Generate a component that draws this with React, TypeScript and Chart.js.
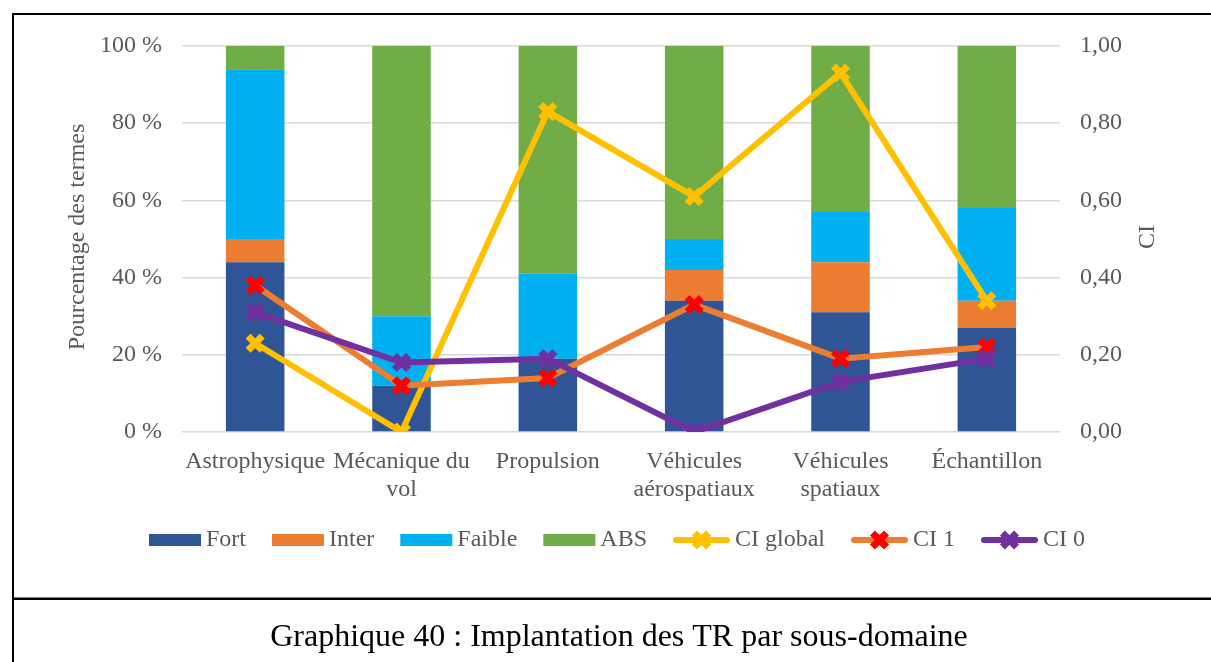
import React, { useEffect, useRef } from "react";
import { Chart, registerables } from "chart.js";

Chart.register(...registerables);

const categories: (string | string[])[] = [
  "Astrophysique",
  ["Mécanique du", "vol"],
  "Propulsion",
  ["Véhicules", "aérospatiaux"],
  ["Véhicules", "spatiaux"],
  "Échantillon",
];
const fort = [44, 12, 19, 34, 31, 27];
const inter = [6, 0, 0, 8, 13, 7];
const faible = [44, 18, 22, 8, 13, 24];
const abs = [6, 70, 59, 50, 43, 42];
const ciGlobal = [0.23, 0.0, 0.83, 0.61, 0.93, 0.34];
const ci1 = [0.38, 0.12, 0.14, 0.33, 0.19, 0.22];
const ci0 = [0.31, 0.18, 0.19, 0.0, 0.13, 0.19];

const leftTitle = "Pourcentage des termes";
const rightTitle = "CI";
const caption = "Graphique 40 : Implantation des TR par sous-domaine";

const FONT = '"Liberation Serif", "Times New Roman", serif';
const TEXT = "#595959";
const C_FORT = "#2F5597";
const C_INTER = "#ED7D31";
const C_FAIBLE = "#00B0F0";
const C_ABS = "#70AD47";
const C_GLOBAL = "#FFC000";
const C_RED = "#FF0000";
const C_PURPLE = "#7030A0";

type LegendItem = { kind: "box" | "line"; label: string; color: string; marker?: string };
const legendItems: LegendItem[] = [
  { kind: "box", label: "Fort", color: C_FORT },
  { kind: "box", label: "Inter", color: C_INTER },
  { kind: "box", label: "Faible", color: C_FAIBLE },
  { kind: "box", label: "ABS", color: C_ABS },
  { kind: "line", label: "CI global", color: C_GLOBAL, marker: C_GLOBAL },
  { kind: "line", label: "CI 1", color: C_INTER, marker: C_RED },
  { kind: "line", label: "CI 0", color: C_PURPLE, marker: C_PURPLE },
];

function drawX(ctx: CanvasRenderingContext2D, x: number, y: number, r: number, color: string, w: number) {
  const o = Math.cos(Math.PI / 4) * r;
  ctx.save();
  ctx.strokeStyle = color;
  ctx.lineWidth = w;
  ctx.beginPath();
  ctx.moveTo(x - o, y - o);
  ctx.lineTo(x + o, y + o);
  ctx.moveTo(x + o, y - o);
  ctx.lineTo(x - o, y + o);
  ctx.stroke();
  ctx.restore();
}

const decorPlugin = {
  id: "decor",
  afterDraw(chart: any) {
    const ctx: CanvasRenderingContext2D = chart.ctx;
    const area = chart.chartArea;
    ctx.save();
    // frame
    ctx.fillStyle = "#000";
    ctx.fillRect(12, 13, 2, 662 - 13);
    ctx.fillRect(12, 13, 1211 - 12, 2);
    ctx.fillRect(12, 597.5, 1211 - 12, 2.5);

    // axis titles
    ctx.fillStyle = TEXT;
    ctx.font = `24px ${FONT}`;
    ctx.textAlign = "center";
    ctx.textBaseline = "middle";
    const cy = (area.top + area.bottom) / 2;
    ctx.save();
    ctx.translate(78, cy - 2);
    ctx.rotate(-Math.PI / 2);
    ctx.fillText(leftTitle, 0, 0);
    ctx.restore();
    ctx.save();
    ctx.translate(1148, cy - 2);
    ctx.rotate(-Math.PI / 2);
    ctx.fillText(rightTitle, 0, 0);
    ctx.restore();

    // legend
    const boxW = 52, lineW = 57, tGap = 5, iGap = 26;
    ctx.textAlign = "left";
    const widths = legendItems.map(
      (it) => (it.kind === "box" ? boxW : lineW) + tGap + ctx.measureText(it.label).width
    );
    const total = widths.reduce((a, b) => a + b, 0) + iGap * (legendItems.length - 1);
    let x = 617 - total / 2;
    const ly = 540;
    legendItems.forEach((it, i) => {
      if (it.kind === "box") {
        ctx.fillStyle = it.color;
        ctx.fillRect(x, ly - 6, boxW, 12);
        x += boxW;
      } else {
        ctx.strokeStyle = it.color;
        ctx.lineWidth = 6;
        ctx.lineCap = "round";
        ctx.beginPath();
        ctx.moveTo(x + 3, ly);
        ctx.lineTo(x + lineW - 3, ly);
        ctx.stroke();
        ctx.lineCap = "butt";
        drawX(ctx, x + lineW / 2, ly, 10, it.marker as string, 7);
        x += lineW;
      }
      x += tGap;
      ctx.fillStyle = TEXT;
      ctx.fillText(it.label, x, ly);
      x += widths[i] - (it.kind === "box" ? boxW : lineW) - tGap + iGap;
    });

    // caption
    ctx.fillStyle = "#000";
    ctx.font = `32px ${FONT}`;
    ctx.textAlign = "center";
    ctx.textBaseline = "alphabetic";
    ctx.fillText(caption, 619, 646);
    ctx.restore();
  },
};

export default function App() {
  const ref = useRef<HTMLCanvasElement | null>(null);
  useEffect(() => {
    if (!ref.current) return;
    Chart.defaults.font.family = FONT;
    const lineDs = (label: string, data: number[], color: string, marker: string, order: number) => ({
      type: "line" as const,
      label,
      data,
      yAxisID: "y1",
      borderColor: color,
      backgroundColor: marker,
      borderWidth: 6,
      pointStyle: "crossRot",
      pointRadius: 10,
      pointBorderWidth: 7,
      pointBorderColor: marker,
      pointBackgroundColor: marker,
      order,
      tension: 0,
    });
    const barDs = (label: string, data: number[], color: string) => ({
      type: "bar" as const,
      label,
      data,
      yAxisID: "y",
      backgroundColor: color,
      barPercentage: 0.4,
      categoryPercentage: 1.0,
      order: 5,
    });
    const chart = new Chart(ref.current, {
      type: "bar",
      data: {
        labels: categories as any,
        datasets: [
          barDs("Fort", fort, C_FORT),
          barDs("Inter", inter, C_INTER),
          barDs("Faible", faible, C_FAIBLE),
          barDs("ABS", abs, C_ABS),
          lineDs("CI global", ciGlobal, C_GLOBAL, C_GLOBAL, 2),
          lineDs("CI 1", ci1, C_INTER, C_RED, 1),
          lineDs("CI 0", ci0, C_PURPLE, C_PURPLE, 0),
        ] as any,
      },
      options: {
        responsive: false,
        animation: false,
        devicePixelRatio: 1,
        layout: { padding: { left: 14, right: 0, top: 46, bottom: 130 } },
        plugins: {
          legend: { display: false },
          tooltip: { enabled: false },
          title: { display: false },
        },
        scales: {
          x: {
            stacked: true,
            grid: { display: false, drawTicks: false },
            border: { display: false },
            ticks: {
              color: TEXT,
              font: { size: 24, lineHeight: 1.15 },
              padding: 16,
              maxRotation: 0,
              autoSkip: false,
            },
            afterFit: (s: any) => {
              s.height = 100;
            },
          },
          y: {
            stacked: true,
            position: "left",
            min: 0,
            max: 100,
            grid: { color: "#D9D9D9", lineWidth: 1.5, drawTicks: false },
            border: { display: false },
            ticks: {
              stepSize: 20,
              color: TEXT,
              font: { size: 24 },
              padding: 20,
              callback: (v: any) => `${v} %`,
            },
            afterFit: (s: any) => {
              s.width = 168;
            },
          },
          y1: {
            stacked: false,
            position: "right",
            min: 0,
            max: 1,
            grid: { display: false, drawTicks: false },
            border: { display: false },
            ticks: {
              stepSize: 0.2,
              color: TEXT,
              font: { size: 24 },
              padding: 20,
              callback: (v: any) => Number(v).toFixed(2).replace(".", ","),
            },
            afterFit: (s: any) => {
              s.width = 151;
            },
          },
        },
      } as any,
      plugins: [decorPlugin],
    });
    return () => chart.destroy();
  }, []);
  return (
    <div style={{ position: "absolute", left: 0, top: 0, width: 1211, height: 662, background: "#fff" }}>
      <canvas ref={ref} width={1211} height={662} style={{ display: "block", width: 1211, height: 662 }} />
    </div>
  );
}
